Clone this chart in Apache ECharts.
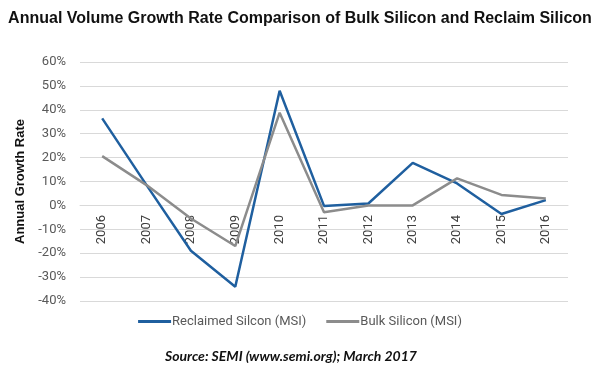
<!DOCTYPE html>
<html><head><meta charset="utf-8">
<script src="https://cdn.jsdelivr.net/npm/echarts@6/dist/echarts.min.js"></script>
<style>html,body{margin:0;padding:0;background:#fff}#c{width:600px;height:370px}</style>
</head><body><div id="c"></div>
<script>
const years = ['2006','2007','2008','2009','2010','2011','2012','2013','2014','2015','2016'];
const reclaimed = [36.4, 8.5, -19, -34, 48, -0.2, 0.8, 17.8, 9.2, -3.6, 2.2];
const bulk = [20.6, 8.5, -5.5, -17, 38.8, -2.9, 0, 0, 11.3, 4.4, 2.9];
const yTicks = {min: -40, max: 60, interval: 10};

const chart = echarts.init(document.getElementById('c'), null, {renderer: 'canvas'});
chart.setOption({
  animation: false,
  backgroundColor: '#fff',
  title: [{
    text: 'Annual Volume Growth Rate Comparison of Bulk Silicon and Reclaim Silicon',
    left: 'center', top: 6,
    textStyle: {fontFamily: 'Liberation Sans', fontWeight: 'bold', fontSize: 16, color: '#111'}
  }, {
    text: 'Source: SEMI (www.semi.org); March 2017',
    left: 160, top: 344,
    textStyle: {fontFamily: 'Lato', fontWeight: 'bold', fontStyle: 'italic', fontSize: 14, color: '#111'}
  }],
  legend: {
    top: 310, left: 'center',
    itemWidth: 33, itemHeight: 3, itemGap: 20,
    icon: 'rect',
    textStyle: {fontFamily: 'Roboto', fontSize: 13, color: '#595959', padding: [0,0,0,-4]},
    data: ['Reclaimed Silcon (MSI)', 'Bulk Silicon (MSI)']
  },
  grid: {left: 80, right: 32, top: 62, bottom: 69, containLabel: false},
  xAxis: {
    type: 'category', data: years, boundaryGap: true,
    axisLine: {onZero: true, lineStyle: {color: '#d9d9d9', width: 1}},
    axisTick: {show: false},
    axisLabel: {rotate: 90, margin: -86, fontFamily: 'Roboto', fontSize: 13, color: '#404040'}
  },
  yAxis: {
    type: 'value', min: yTicks.min, max: yTicks.max, interval: yTicks.interval,
    name: 'Annual Growth Rate', nameLocation: 'middle', nameGap: 46, nameRotate: 90,
    nameTextStyle: {fontFamily: 'Liberation Sans', fontWeight: 'bold', fontSize: 13, color: '#111'},
    axisLine: {show: false}, axisTick: {show: false},
    axisLabel: {formatter: '{value}%', margin: 14, fontFamily: 'Roboto', fontSize: 13, color: '#595959'},
    splitLine: {lineStyle: {color: '#d9d9d9', width: 1}}
  },
  series: [{
    name: 'Reclaimed Silcon (MSI)', type: 'line', data: reclaimed,
    showSymbol: false, symbol: 'none',
    lineStyle: {color: '#1f5f9f', width: 2.5}, itemStyle: {color: '#1f5f9f'}
  }, {
    name: 'Bulk Silicon (MSI)', type: 'line', data: bulk,
    showSymbol: false, symbol: 'none',
    lineStyle: {color: '#8c8c8c', width: 2.5}, itemStyle: {color: '#8c8c8c'}
  }]
});
</script></body></html>
